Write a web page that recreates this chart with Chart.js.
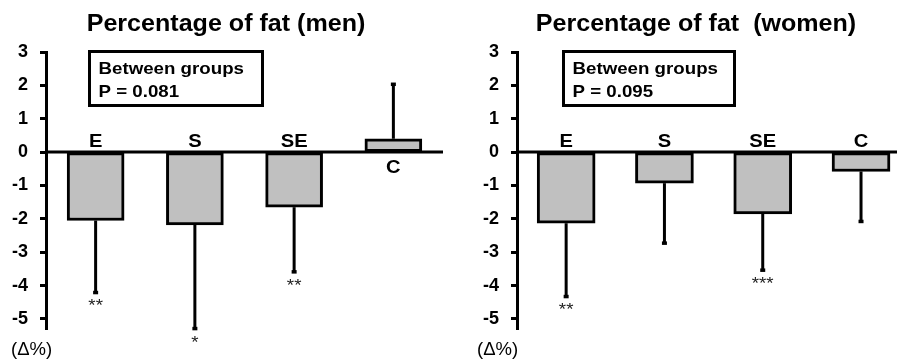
<!DOCTYPE html>
<html>
<head>
<meta charset="utf-8">
<script src="https://cdn.jsdelivr.net/npm/chart.js@4.4.1/dist/chart.umd.min.js"></script>
<style>
body{margin:0;background:#fff}
canvas{position:absolute;top:0}
#men{left:0}
#women{left:450px}
</style>
</head>
<body>
<canvas id="men" width="450" height="362"></canvas>
<canvas id="women" width="447" height="362"></canvas>
<script>
const groups = ["E", "S", "SE", "C"]

const menMean = [-2.05, -2.18, -1.65, 0.4]
const menErrorEnd = [-4.2, -5.28, -3.58, 2.04]
const menStars = ["**", "*", "**", ""]

const womenMean = [-2.13, -0.93, -1.85, -0.58]
const womenErrorEnd = [-4.32, -2.72, -3.53, -2.07]
const womenStars = ["**", "", "***", ""]

const yMin = -5.3
const yMax = 3

const FONT = "'Liberation Sans', Arial, sans-serif"

// the source figure is a bit wider than tall, so text gets stretched
function wideText(ctx, str, x, y, sx){
    ctx.save()
    ctx.translate(x, y)
    ctx.scale(sx, 1)
    ctx.fillText(str, 0, 0)
    ctx.restore()
}

function overlay(o){
    return {
        id: "overlay",
        afterDatasetsDraw(chart){
            const ctx = chart.ctx
            const x = chart.scales.x
            const y = chart.scales.y
            const area = chart.chartArea
            const zero = y.getPixelForValue(0)

            ctx.save()
            ctx.strokeStyle = "#000"
            ctx.fillStyle = "#000"

            // error bars, one side only
            ctx.lineWidth = 3
            o.mean.forEach((m, i) => {
                const px = x.getPixelForValue(i)
                const y0 = y.getPixelForValue(m)
                const y1 = y.getPixelForValue(o.err[i])
                ctx.beginPath()
                ctx.moveTo(px, y0)
                ctx.lineTo(px, y1)
                ctx.stroke()
                ctx.fillRect(px - 2.5, y1 - 1.5, 5, 3.5)
            })

            // zero line
            ctx.lineWidth = 3
            ctx.beginPath()
            ctx.moveTo(area.left, zero)
            ctx.lineTo(area.right, zero)
            ctx.stroke()

            // group labels
            ctx.font = "bold 18px " + FONT
            ctx.textAlign = "center"
            o.mean.forEach((m, i) => {
                const px = x.getPixelForValue(i)
                if(m < 0){
                    ctx.textBaseline = "alphabetic"
                    wideText(ctx, groups[i], px, zero - 5, 1.12)
                }else{
                    ctx.textBaseline = "top"
                    wideText(ctx, groups[i], px, zero + 7, 1.12)
                }
            })

            // significance stars
            ctx.font = "17px " + FONT
            ctx.fillStyle = "#222"
            ctx.textBaseline = "top"
            o.stars.forEach((s, i) => {
                if(!s) return
                const px = x.getPixelForValue(i)
                const y1 = y.getPixelForValue(o.err[i])
                wideText(ctx, s, px, y1 + 6, 1.1)
            })

            // title
            ctx.fillStyle = "#000"
            ctx.textBaseline = "alphabetic"
            ctx.font = "bold 23px " + FONT
            wideText(ctx, o.title, o.titleX, 31, 1.09)

            // between groups box
            ctx.lineWidth = 3
            ctx.strokeRect(o.boxX, 51.5, o.boxW, 54)
            ctx.textAlign = "left"
            ctx.font = "bold 17px " + FONT
            wideText(ctx, "Between groups", o.boxX + 9, 74, 1.1)
            wideText(ctx, o.p, o.boxX + 9, 97, 1.1)

            // unit
            ctx.font = "18.5px " + FONT
            ctx.fillText("(\u0394%)", o.unitX, 355)

            ctx.restore()
        }
    }
}

function makeChart(id, mean, o){
    const points = mean.map((v, i) => ({x: i, y: v}))
    return new Chart(document.getElementById(id).getContext("2d"), {
        type: "bar",
        data: {
            datasets: [{
                data: points,
                backgroundColor: "#c0c0c0",
                borderColor: "#000",
                borderWidth: 3,
                borderSkipped: false,
                barThickness: o.barW
            }]
        },
        options: {
            responsive: false,
            animation: false,
            devicePixelRatio: 1,
            layout: {
                padding: {top: 52, bottom: 33, left: 0, right: o.padRight}
            },
            plugins: {
                legend: {display: false},
                tooltip: {enabled: false}
            },
            scales: {
                x: {
                    type: "linear",
                    display: false,
                    offset: false,
                    min: -0.5,
                    max: o.xMax
                },
                y: {
                    min: yMin,
                    max: yMax,
                    afterFit(scale){ scale.width = o.axisW },
                    border: {display: true, color: "#000", width: 3},
                    grid: {
                        drawOnChartArea: false,
                        drawTicks: true,
                        tickLength: 6,
                        tickWidth: 3,
                        tickColor: "#000"
                    },
                    ticks: {
                        stepSize: 1,
                        includeBounds: false,
                        padding: 12,
                        color: "#000",
                        font: {family: FONT, size: 18, weight: "bold"}
                    }
                }
            }
        },
        plugins: [overlay(o)]
    })
}

makeChart("men", menMean, {
    mean: menMean, err: menErrorEnd, stars: menStars,
    title: "Percentage of fat (men)", titleX: 226,
    p: "P = 0.081", boxX: 89.5, boxW: 173, unitX: 11,
    axisW: 46, padRight: 7, xMax: 3.5, barW: 57
})

makeChart("women", womenMean, {
    mean: womenMean, err: womenErrorEnd, stars: womenStars,
    title: "Percentage of fat  (women)", titleX: 246,
    p: "P = 0.095", boxX: 113.5, boxW: 171, unitX: 27,
    axisW: 67, padRight: 0, xMax: 3.366, barW: 58
})
</script>
</body>
</html>
